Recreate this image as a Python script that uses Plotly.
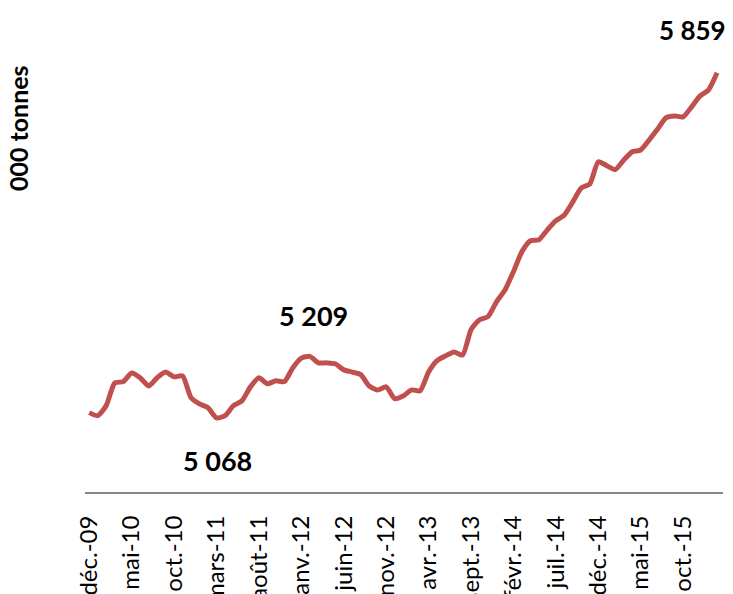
import plotly.graph_objects as go

mois = ["janv.", "févr.", "mars", "avr.", "mai", "juin",
        "juil.", "août", "sept.", "oct.", "nov.", "déc."]

# déc.-09 .. févr.-16, one point per month
periodes = ["déc.-09"] + [f"{m}-{a:02d}" for a in range(10, 16) for m in mois] + ["janv.-16", "févr.-16"]

tonnes = [
    5080, 5073, 5096, 5148, 5151, 5171, 5160, 5141, 5160, 5173,
    5162, 5164, 5114, 5100, 5091, 5068, 5073, 5096, 5107, 5139,
    5160, 5146, 5153, 5151, 5183, 5205, 5209, 5194, 5194, 5192,
    5178, 5173, 5167, 5141, 5132, 5139, 5112, 5118, 5132, 5130,
    5173, 5199, 5210, 5219, 5212, 5270, 5293, 5300, 5334, 5361,
    5403, 5449, 5474, 5476, 5499, 5520, 5533, 5563, 5595, 5604,
    5655, 5646, 5637, 5659, 5678, 5682, 5705, 5730, 5756, 5760,
    5758, 5781, 5806, 5820, 5859,
]

ticks = periodes[:-2:5]

i_min = tonnes.index(min(tonnes))
i_pic = 26  # janv./févr.-12 local peak
i_fin = len(tonnes) - 1

police = "Lato, Carlito, Calibri, sans-serif"

fig = go.Figure()
fig.add_trace(
    go.Scatter(
        x=periodes,
        y=tonnes,
        mode="lines",
        line=dict(color="#C0504D", width=5, shape="spline", smoothing=0.6),
        showlegend=False,
        hoverinfo="x+y",
    )
)

for i, dx, dy, taille in [(i_fin, -25, 43, 26), (i_pic, 4, 41, 27), (i_min, 1, -43, 27)]:
    fig.add_annotation(
        x=periodes[i], y=tonnes[i],
        text=f"<b>{tonnes[i]:,}</b>".replace(",", " "),
        showarrow=False, xshift=dx, yshift=dy,
        font=dict(family=police, size=taille, color="black"),
    )

fig.add_annotation(
    text="<b>000 tonnes</b>", xref="paper", yref="paper", x=0, y=0.771,
    xshift=-67, xanchor="center", yanchor="middle", textangle=-90, showarrow=False,
    font=dict(family=police, size=25, color="black"),
)

# page body has an 8px margin, so the margins are set 8px less on top/left
fig.update_layout(
    width=733, height=594,
    paper_bgcolor="white", plot_bgcolor="white",
    margin=dict(l=77, r=18, t=12, b=110, autoexpand=False),
    font=dict(family=police, color="black"),
    xaxis=dict(
        type="category",
        categoryorder="array", categoryarray=periodes,
        range=[-0.5, 74.7],
        tickmode="array", tickvals=ticks, ticktext=ticks,
        tickangle=-90, tickfont=dict(size=24),
        showline=True, linecolor="#868686", linewidth=2,
        showgrid=False, ticks="", ticklabelstandoff=12,
        automargin=False,
    ),
    yaxis=dict(
        range=[4898, 5980],
        showticklabels=False, showgrid=False, zeroline=False, showline=False,
        automargin=False,
    ),
)

fig.write_html("out.html")
